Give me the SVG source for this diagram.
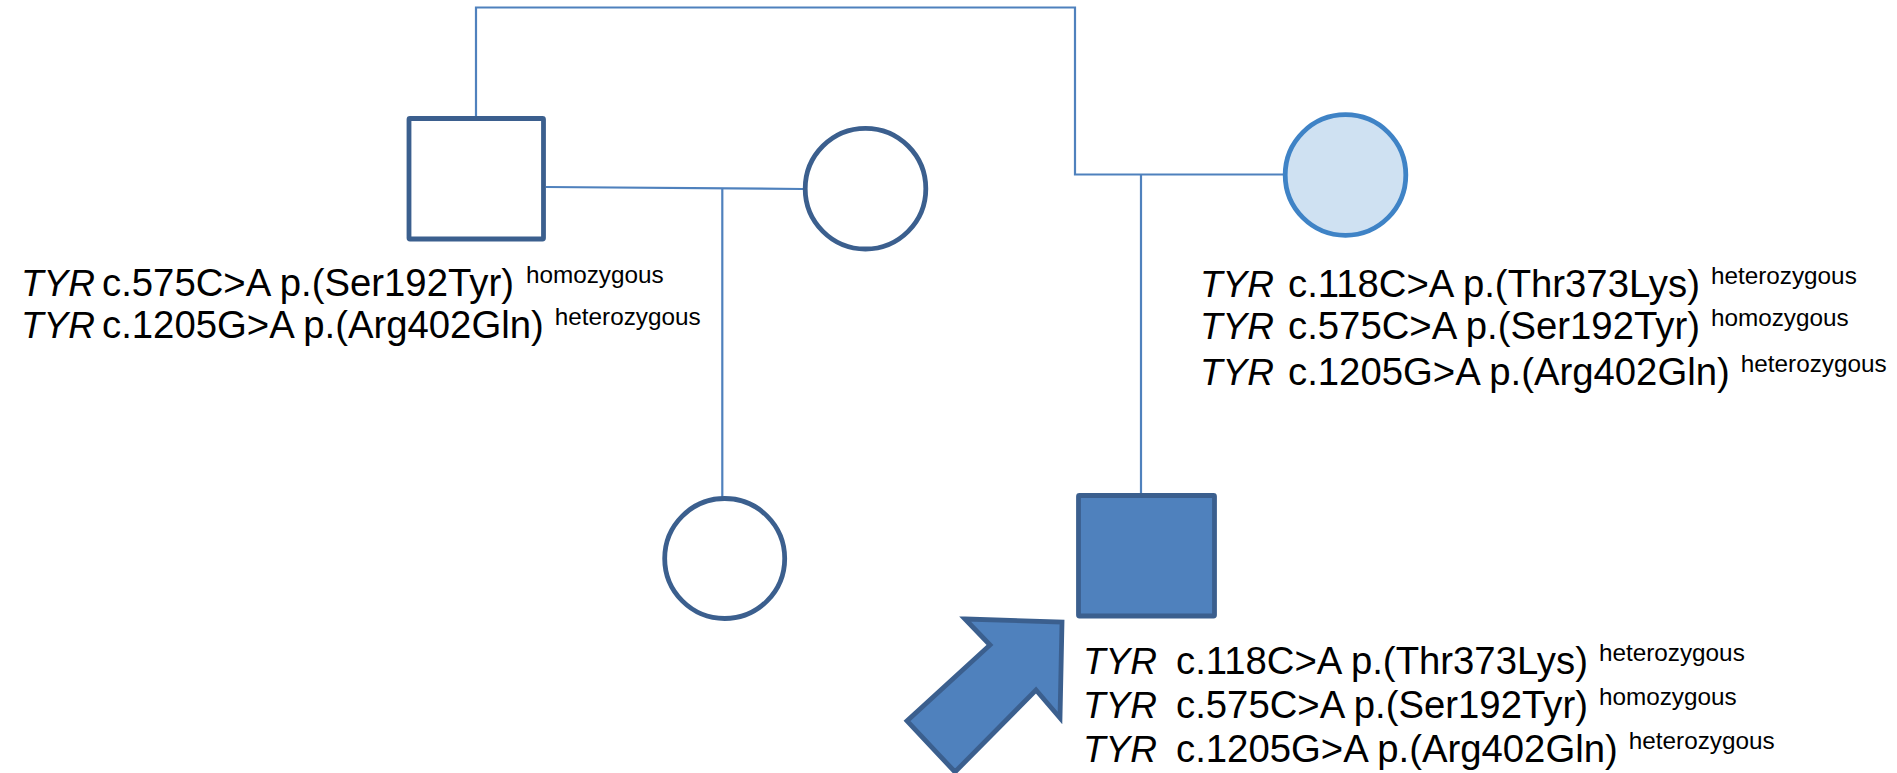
<svg xmlns="http://www.w3.org/2000/svg" width="1897" height="773" viewBox="0 0 1897 773">
<style>
.ln{fill:none;stroke:#4F81BD;stroke-width:2.2}
.nd{fill:#FFFFFF;stroke:#3B5F8E;stroke-width:4.8}
.aff{fill:#4F81BD;stroke:#3B5F8E;stroke-width:4.8}
.car{fill:#CFE1F2;stroke:#3F83C6;stroke-width:4.8}
.t{font-family:"Liberation Sans",Arial,Helvetica,sans-serif;font-size:38.3px;fill:#000000}
.g{font-style:italic;font-size:37px}
.s{font-size:24.3px}
</style>
<rect x="0" y="0" width="1897" height="773" fill="#FFFFFF"/>
<g id="connectors">
<path class="ln" d="M476,118 V7.5 H1075 V174.5 H1283"/>
<path class="ln" d="M1141,174.5 V494"/>
<path class="ln" d="M546,187 L803,189"/>
<path class="ln" d="M722.3,188 V497"/>
</g>
<g id="grandfather">
<rect class="nd" x="409" y="118.5" width="134.5" height="120.5" rx="1"/>
<text class="t" x="21" y="296"><tspan class="g">TYR</tspan><tspan x="102">c.575C&gt;A p.(Ser192Tyr)</tspan><tspan class="s" dx="12" dy="-13">homozygous</tspan></text>
<text class="t" x="21" y="338"><tspan class="g">TYR</tspan><tspan x="102">c.1205G&gt;A p.(Arg402Gln)</tspan><tspan class="s" dx="11" dy="-13">heterozygous</tspan></text>
</g>
<g id="grandmother">
<circle class="nd" cx="865.5" cy="188.7" r="60.3"/>
</g>
<g id="daughter">
<circle class="nd" cx="724.7" cy="558.5" r="60"/>
</g>
<g id="mother">
<circle class="car" cx="1345.5" cy="175" r="60.3"/>
<text class="t" x="1200" y="297"><tspan class="g">TYR</tspan><tspan x="1288">c.118C&gt;A p.(Thr373Lys)</tspan><tspan class="s" dx="11" dy="-13">heterozygous</tspan></text>
<text class="t" x="1200" y="339"><tspan class="g">TYR</tspan><tspan x="1288">c.575C&gt;A p.(Ser192Tyr)</tspan><tspan class="s" dx="11" dy="-13">homozygous</tspan></text>
<text class="t" x="1200" y="385"><tspan class="g">TYR</tspan><tspan x="1288">c.1205G&gt;A p.(Arg402Gln)</tspan><tspan class="s" dx="11" dy="-13">heterozygous</tspan></text>
</g>
<g id="proband">
<rect class="aff" x="1078.5" y="495.5" width="136" height="120.5" rx="1"/>
<text class="t" x="1083" y="674"><tspan class="g">TYR</tspan><tspan x="1176">c.118C&gt;A p.(Thr373Lys)</tspan><tspan class="s" dx="11" dy="-13">heterozygous</tspan></text>
<text class="t" x="1083" y="718"><tspan class="g">TYR</tspan><tspan x="1176">c.575C&gt;A p.(Ser192Tyr)</tspan><tspan class="s" dx="11" dy="-13">homozygous</tspan></text>
<text class="t" x="1083" y="762"><tspan class="g">TYR</tspan><tspan x="1176">c.1205G&gt;A p.(Arg402Gln)</tspan><tspan class="s" dx="11" dy="-13">heterozygous</tspan></text>
</g>
<g id="arrow">
<polygon class="aff" points="965,619 1062,622 1060,718 1036,690 955,772 907,721 990,645"/>
</g>
</svg>
